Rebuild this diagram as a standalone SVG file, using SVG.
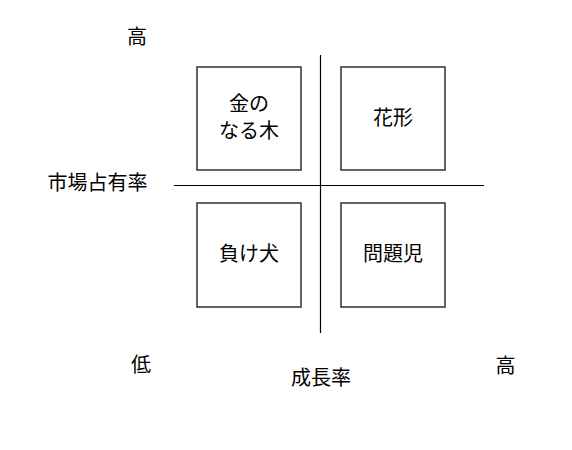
<svg xmlns="http://www.w3.org/2000/svg" width="572" height="450" viewBox="0 0 572 450">
<style>
.t{font-family:"Noto Sans CJK JP","Noto Sans",sans-serif;font-size:20px;fill:#000;text-anchor:middle}
.box{fill:#fff;stroke:#333;stroke-width:1.5}
.ax{stroke:#000;stroke-width:1.2;fill:none}
</style>
<rect width="572" height="450" fill="#fff"/>
<g id="connectors">
<line class="ax" x1="320.5" y1="55" x2="320.5" y2="333"/>
<line class="ax" x1="174" y1="185.5" x2="484" y2="185.5"/>
</g>
<g id="labels">
<text class="t" x="137" y="44">高</text>
<text class="t" x="147.5" y="190" style="text-anchor:end">市場占有率</text>
<text class="t" x="141" y="372">低</text>
<text class="t" x="321" y="385">成長率</text>
<text class="t" x="505.5" y="373">高</text>
</g>
<g id="cash-cow">
<rect class="box" x="197" y="67" width="104" height="103"/>
<text class="t" x="249" y="111">金の</text>
<text class="t" x="249" y="138">なる木</text>
</g>
<g id="star">
<rect class="box" x="341" y="67" width="104" height="103"/>
<text class="t" x="393" y="125">花形</text>
</g>
<g id="dog">
<rect class="box" x="197" y="203" width="104" height="104"/>
<text class="t" x="249" y="261">負け犬</text>
</g>
<g id="problem-child">
<rect class="box" x="341" y="203" width="104" height="104"/>
<text class="t" x="393" y="261">問題児</text>
</g>
</svg>
